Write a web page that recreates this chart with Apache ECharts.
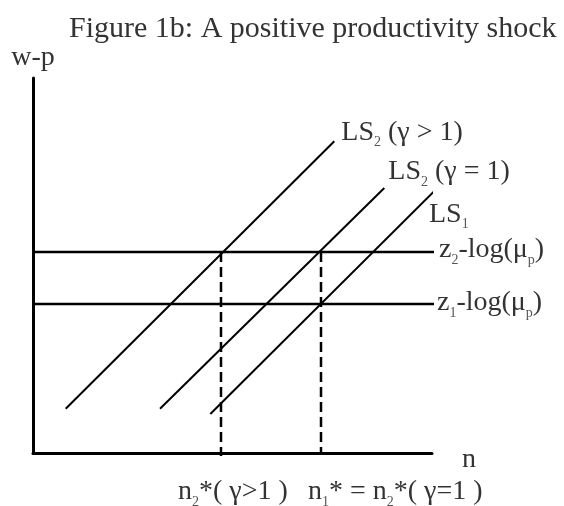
<!DOCTYPE html>
<html>
<head>
<meta charset="utf-8">
<script src="https://cdn.jsdelivr.net/npm/echarts@6/dist/echarts.min.js"></script>
<style>
  html, body { margin: 0; padding: 0; background: #fff; }
  #main { width: 564px; height: 506px; }
</style>
</head>
<body>
<div id="main"></div>
<script>
// values (x = n, y = w-p, arbitrary units)
var zLevels = [201, 149];            // z2-log(mu_p), z1-log(mu_p)
var zEnds = [402, 404];
var zLabels = ['{m|z}{s|2}{m|-log(μ}{s|p}{m|)}', '{m|z}{s|1}{m|-log(μ}{s|p}{m|)}'];

var lsStart = [[32.7, 44.3], [127, 44.3], [177.3, 39]];
var lsEnd = [[301.3, 311.7], [351.3, 265], [403, 263.7]];
var lsLabels = ['{m|LS}{s|2}{m| (γ > 1)}', '{m|LS}{s|2}{m| (γ = 1)}', '{m|LS}{s|1}'];

var nStar = [188, 288];              // n2*(γ>1), n1* = n2*(γ=1)
var nTop = 201;
var nBottom = [-3, 0];
var nLabels = ['{m|n}{s|2}{m|*( γ>1 )}', '{m|n}{s|1}{m|* = n}{s|2}{m|*( γ=1 )}'];

var FONT = 'Liberation Serif';
var TXT = '#333';
var rich = {
    m: { fontFamily: FONT, fontSize: 28, color: TXT, lineHeight: 34, verticalAlign: 'middle' },
    s: { fontFamily: FONT, fontSize: 14, color: '#555', lineHeight: 35, verticalAlign: 'bottom' }
};

function lbl(text, offset) {
    return {
        show: true,
        formatter: text,
        rich: rich,
        distance: 0,
        offset: offset,
        align: 'left',
        verticalAlign: 'middle'
    };
}

var zOffsets = [[5, -2], [3, -1]];
var lsOffsets = [[7, -9], [4, -16], [-4, 22]];
var nOffsets = [[-43, 36], [-13, 39]];

var series = [];
zLevels.forEach(function (z, i) {
    series.push({
        type: 'line', symbol: 'none', clip: false, silent: true,
        data: [[0, z], [zEnds[i], z]],
        lineStyle: { color: '#000', width: 2.5 },
        endLabel: lbl(zLabels[i], zOffsets[i])
    });
});
lsStart.forEach(function (p, i) {
    series.push({
        type: 'line', symbol: 'none', clip: false, silent: true,
        data: [p, lsEnd[i]],
        lineStyle: { color: '#000', width: 2 },
        endLabel: lbl(lsLabels[i], lsOffsets[i])
    });
});
nStar.forEach(function (x, i) {
    series.push({
        type: 'line', symbol: 'none', clip: false, silent: true,
        data: [[x, nTop], [x, nBottom[i]]],
        lineStyle: { color: '#000', width: 2.5, type: [10, 5] },
        endLabel: lbl(nLabels[i], nOffsets[i])
    });
});

var myChart = echarts.init(document.getElementById('main'));
var option = {
    animation: false,
    backgroundColor: '#fff',
    title: {
        text: 'Figure 1b: A positive productivity shock',
        left: 64,
        top: 9,
        textStyle: { fontFamily: FONT, fontSize: 30, fontWeight: 'normal', color: TXT }
    },
    grid: { left: 33, top: 78, width: 399, height: 375 },
    xAxis: {
        type: 'value', min: 0, max: 399,
        name: 'n', nameLocation: 'end', nameGap: 30,
        nameTextStyle: { fontFamily: FONT, fontSize: 28, color: TXT, verticalAlign: 'top', lineHeight: 14 },
        axisLine: { show: true, lineStyle: { color: '#000', width: 3 } },
        axisTick: { show: false }, axisLabel: { show: false }, splitLine: { show: false }
    },
    yAxis: {
        type: 'value', min: 0, max: 375,
        name: 'w-p', nameLocation: 'end', nameGap: 6,
        nameTextStyle: { fontFamily: FONT, fontSize: 28, color: TXT },
        axisLine: { show: true, lineStyle: { color: '#000', width: 3 } },
        axisTick: { show: false }, axisLabel: { show: false }, splitLine: { show: false }
    },
    series: series
};
myChart.setOption(option);
</script>
</body>
</html>
